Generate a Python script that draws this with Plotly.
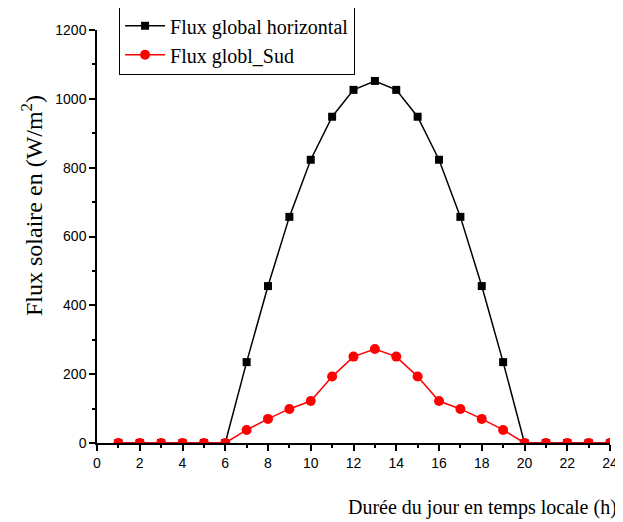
import plotly.graph_objects as go

hours = list(range(1, 25))
flux_horizontal = [0, 0, 0, 0, 0, 0, 235, 456, 657, 823, 948, 1026, 1052, 1026, 948, 823, 657, 456, 235, 0, 0, 0, 0, 0]
flux_sud = [0, 0, 0, 0, 0, 0, 38, 70, 99, 122, 193, 251, 273, 251, 193, 122, 99, 70, 38, 0, 0, 0, 0, 0]
x_ticks = list(range(0, 25, 2))
y_ticks = list(range(0, 1201, 200))

fig = go.Figure()
fig.add_trace(go.Scatter(x=hours, y=flux_horizontal, mode="lines+markers",
                         name="Flux global horizontal",
                         line=dict(color="black", width=1.5),
                         marker=dict(symbol="square", size=8, color="black")))
fig.add_trace(go.Scatter(x=hours, y=flux_sud, mode="lines+markers",
                         name="Flux globl_Sud",
                         line=dict(color="red", width=1.5),
                         marker=dict(symbol="circle", size=10, color="red")))

fig.update_layout(
    width=615, height=514,
    margin=dict(l=89, r=13, t=22, b=79, autoexpand=False),
    plot_bgcolor="white", paper_bgcolor="white",
    showlegend=True,
    legend=dict(x=0.043, y=1.06, xanchor="left", yanchor="top",
                bordercolor="black", borderwidth=1, bgcolor="white",
                font=dict(family="Liberation Serif", size=20, color="black"),
                tracegroupgap=0, itemwidth=40),
    font=dict(family="Liberation Sans", size=12, color="black"),
    xaxis=dict(range=[0, 24], tickvals=x_ticks, showgrid=False, zeroline=False,
               showline=True, linecolor="black", linewidth=1.5,
               ticks="outside", ticklen=6, tickwidth=1.5, tickcolor="black",
               minor=dict(ticks="outside", dtick=1, ticklen=3, tickcolor="black", tickwidth=1.5),
               tickfont=dict(family="Liberation Sans", size=14)),
    yaxis=dict(range=[0, 1200], tickvals=y_ticks, showgrid=False, zeroline=False,
               showline=True, linecolor="black", linewidth=1.5,
               ticks="outside", ticklen=6, tickwidth=1.5, tickcolor="black",
               minor=dict(ticks="outside", dtick=100, ticklen=3, tickcolor="black", tickwidth=1.5),
               tickfont=dict(family="Liberation Sans", size=14)),
)
fig.add_annotation(text="Flux solaire en (W/m<sup>2</sup>)", xref="paper", yref="paper",
                   x=-65/513, y=(443-206)/413, xanchor="center", yanchor="middle",
                   textangle=-90, showarrow=False,
                   font=dict(family="Liberation Serif", size=24, color="black"))
fig.add_annotation(text="Durée du jour en temps locale (h)", xref="paper", yref="paper",
                   x=1.0 + 9/513, y=-(507-443)/413, xanchor="right", yanchor="middle",
                   showarrow=False, font=dict(family="Liberation Serif", size=20, color="black"))

fig.write_html("out.html")
